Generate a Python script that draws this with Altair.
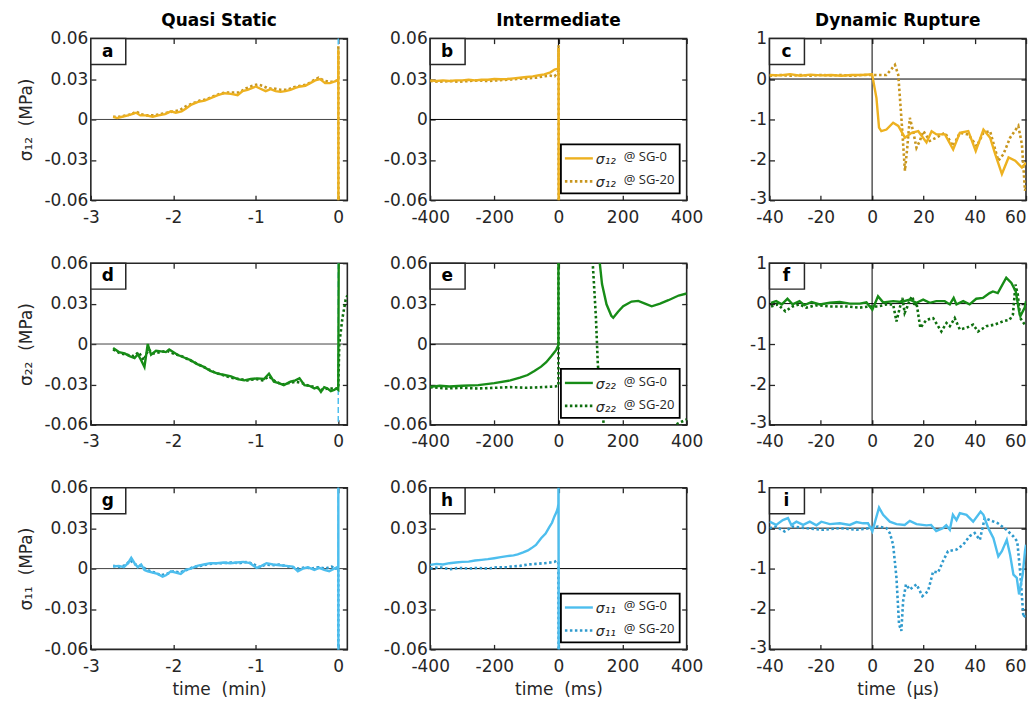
import altair as alt
import pandas as pd

FONT = "DejaVu Sans"
INK = "#262626"

COL_TITLES = ["Quasi Static", "Intermediate", "Dynamic Rupture"]
X_TITLES = ["time\u00a0\u00a0(min)", "time\u00a0\u00a0(ms)", "time\u00a0\u00a0(\u03bcs)"]
Y_TITLES = ["\u03c3\u2081\u2082\u00a0\u00a0(MPa)", "\u03c3\u2082\u2082\u00a0\u00a0(MPa)", "\u03c3\u2081\u2081\u00a0\u00a0(MPa)"]
LEG_SYM = ["\u03c3\u2081\u2082", "\u03c3\u2082\u2082", "\u03c3\u2081\u2081"]
LETTERS = [["a", "b", "c"], ["d", "e", "f"], ["g", "h", "i"]]
X_DOMAINS = [[-3, 0.11], [-400, 400], [-40, 60]]
X_TICKS = [[-3, -2, -1, 0], [-400, -200, 0, 200, 400], [-40, -20, 0, 20, 40, 60]]
Y_DOMAINS = [[-0.06, 0.06], [-0.06, 0.06], [-3, 1]]
Y_TICKS = [[-0.06, -0.03, 0, 0.03, 0.06], [-0.06, -0.03, 0, 0.03, 0.06], [-3, -2, -1, 0, 1]]
SOLID_COLORS = ["#EDB120", "#178C17", "#4DBEEE"]
DOT_COLORS = ["#C8961E", "#0E6E0E", "#2F9ACD"]

# ---------------- row 1 : sigma_12 ----------------
A_SG0 = [(-2.73, 0.002), (-2.68, 0.001), (-2.62, 0.002), (-2.55, 0.003), (-2.5, 0.004), (-2.45, 0.005),
         (-2.4, 0.003), (-2.33, 0.003), (-2.25, 0.002), (-2.18, 0.003), (-2.1, 0.004), (-2.03, 0.006),
         (-1.97, 0.005), (-1.9, 0.006), (-1.85, 0.008), (-1.78, 0.011), (-1.7, 0.013), (-1.62, 0.014),
         (-1.54, 0.016), (-1.46, 0.018), (-1.38, 0.0195), (-1.3, 0.019), (-1.22, 0.018), (-1.16, 0.021),
         (-1.1, 0.022), (-1.04, 0.0235), (-1.0, 0.0245), (-0.95, 0.023), (-0.88, 0.021), (-0.82, 0.0225),
         (-0.76, 0.021), (-0.7, 0.0205), (-0.64, 0.021), (-0.58, 0.022), (-0.52, 0.0235), (-0.46, 0.0245),
         (-0.4, 0.025), (-0.34, 0.027), (-0.28, 0.029), (-0.22, 0.030), (-0.16, 0.027), (-0.1, 0.027),
         (-0.05, 0.028), (-0.01, 0.029), (0.0, 0.029), (0.001, 0.052), (0.002, -0.08)]
A_SG20 = [(-2.73, 0.002), (-2.66, 0.002), (-2.58, 0.003), (-2.5, 0.004), (-2.45, 0.006), (-2.4, 0.004),
          (-2.32, 0.003), (-2.24, 0.003), (-2.16, 0.004), (-2.08, 0.005), (-2.0, 0.006), (-1.92, 0.007),
          (-1.84, 0.01), (-1.76, 0.012), (-1.68, 0.014), (-1.6, 0.015), (-1.52, 0.017), (-1.44, 0.019),
          (-1.36, 0.02), (-1.28, 0.02), (-1.2, 0.02), (-1.12, 0.023), (-1.04, 0.025), (-0.98, 0.026),
          (-0.92, 0.025), (-0.85, 0.023), (-0.78, 0.023), (-0.7, 0.022), (-0.62, 0.022), (-0.54, 0.024),
          (-0.46, 0.025), (-0.38, 0.026), (-0.3, 0.029), (-0.24, 0.031), (-0.18, 0.029), (-0.12, 0.028),
          (-0.06, 0.028), (-0.01, 0.029), (0.0, 0.029), (0.001, 0.055), (0.002, -0.08)]
B_SG0 = [(-400, 0.029), (-380, 0.0285), (-360, 0.029), (-340, 0.0285), (-320, 0.029), (-300, 0.029),
         (-280, 0.0295), (-260, 0.029), (-240, 0.0295), (-220, 0.0295), (-200, 0.030), (-180, 0.0298),
         (-160, 0.030), (-140, 0.0305), (-120, 0.031), (-100, 0.0315), (-80, 0.032), (-60, 0.0328),
         (-44, 0.0335), (-25, 0.035), (-12, 0.037), (-4, 0.0375), (0, 0.038), (0.5, 0.053), (1, -0.08)]
B_SG20 = [(-400, 0.0285), (-370, 0.028), (-340, 0.0285), (-310, 0.028), (-280, 0.0285), (-250, 0.029),
          (-220, 0.0285), (-190, 0.029), (-160, 0.0295), (-130, 0.030), (-100, 0.0305), (-70, 0.031),
          (-45, 0.032), (-25, 0.0325), (-12, 0.032), (-5, 0.034), (0, 0.036), (0.5, 0.055), (1, -0.08)]
C_SG0 = [(-40, 0.1), (-36, 0.09), (-32, 0.12), (-28, 0.08), (-24, 0.11), (-20, 0.09), (-16, 0.1),
         (-12, 0.08), (-8, 0.1), (-4, 0.1), (0, 0.12), (1.7, -0.47), (2.7, -1.2), (3.6, -1.29), (5.6, -1.25),
         (8.2, -1.08), (10.2, -1.16), (12.8, -1.45), (15.4, -1.33), (18.0, -1.29), (21.2, -1.57), (23.2, -1.29),
         (25.1, -1.37), (28.4, -1.37), (31.6, -1.74), (34.2, -1.33), (37.5, -1.29), (40.4, -1.78), (43.4, -1.25),
         (46.0, -1.45), (48.0, -1.86), (50.6, -2.35), (53.2, -1.94), (55.8, -2.02), (58.4, -2.19), (60.0, -2.07)]
C_SG20 = [(-40, 0.08), (-36, 0.1), (-32, 0.08), (-28, 0.1), (-24, 0.08), (-20, 0.1), (-16, 0.09), (-12, 0.1),
          (-8, 0.08), (-4, 0.1), (0, 0.1), (5.6, 0.1), (8.9, 0.35), (10.2, 0.1), (11.5, -1.04), (12.8, -2.27),
          (13.7, -1.7), (14.7, -0.96), (16.0, -1.29), (17.3, -1.7), (18.6, -1.53), (20.0, -1.29), (22.5, -1.53),
          (25.0, -1.45), (28.4, -1.33), (31.6, -1.66), (34.2, -1.33), (37.5, -1.37), (40.8, -1.66), (43.4, -1.33),
          (46.0, -1.29), (49.2, -2.02), (51.2, -1.86), (53.8, -1.45), (57.0, -1.16), (58.4, -1.61), (59.6, -2.76),
          (60.0, -2.68)]

# ---------------- row 2 : sigma_22 ----------------
D_SG0 = [(-2.73, -0.003), (-2.66, -0.006), (-2.59, -0.007), (-2.53, -0.009), (-2.47, -0.0105), (-2.43, -0.0075),
         (-2.39, -0.012), (-2.35, -0.017), (-2.31, 0.0), (-2.27, -0.008), (-2.21, -0.005), (-2.15, -0.0055),
         (-2.09, -0.006), (-2.05, -0.004), (-1.95, -0.008), (-1.87, -0.010), (-1.79, -0.012), (-1.71, -0.015),
         (-1.63, -0.017), (-1.55, -0.020), (-1.46, -0.022), (-1.38, -0.023), (-1.30, -0.024), (-1.22, -0.026),
         (-1.14, -0.027), (-1.06, -0.026), (-0.98, -0.0255), (-0.9, -0.026), (-0.84, -0.022), (-0.78, -0.028),
         (-0.72, -0.029), (-0.66, -0.0305), (-0.58, -0.028), (-0.52, -0.027), (-0.47, -0.0255), (-0.41, -0.0305),
         (-0.35, -0.031), (-0.29, -0.033), (-0.25, -0.032), (-0.21, -0.0355), (-0.17, -0.032), (-0.13, -0.033),
         (-0.09, -0.035), (-0.05, -0.034), (-0.02, -0.033), (0.0, -0.034), (0.006, 0.07)]
D_SG20 = [(-2.73, -0.004), (-2.64, -0.007), (-2.56, -0.008), (-2.48, -0.009), (-2.42, -0.006), (-2.36, -0.012),
          (-2.3, -0.004), (-2.24, -0.007), (-2.16, -0.006), (-2.08, -0.005), (-2.0, -0.007), (-1.9, -0.009),
          (-1.8, -0.012), (-1.7, -0.015), (-1.6, -0.018), (-1.5, -0.021), (-1.4, -0.023), (-1.3, -0.025),
          (-1.2, -0.026), (-1.1, -0.027), (-1.0, -0.026), (-0.92, -0.027), (-0.84, -0.024), (-0.76, -0.028),
          (-0.68, -0.03), (-0.6, -0.029), (-0.52, -0.028), (-0.44, -0.029), (-0.36, -0.031), (-0.28, -0.032),
          (-0.2, -0.034), (-0.12, -0.033), (-0.05, -0.033), (0.0, -0.033), (0.012, 0.0), (0.05, 0.019),
          (0.09, 0.033), (0.11, 0.036)]
E_SG0 = [(-400, -0.0318), (-370, -0.031), (-340, -0.0315), (-300, -0.031), (-250, -0.0305), (-200, -0.029),
         (-150, -0.027), (-120, -0.025), (-96, -0.023), (-75, -0.020), (-54, -0.0168), (-38, -0.0135),
         (-23, -0.0093), (-12, -0.006), (-7, -0.0043), (-2, -0.0018), (0, -0.001), (0.5, 0.3), (122, 0.09),
         (129, 0.06), (136, 0.0445), (150, 0.0295), (165, 0.021), (171, 0.0195), (186, 0.024), (202, 0.028),
         (228, 0.0315), (249, 0.032), (270, 0.030), (291, 0.028), (317, 0.030), (343, 0.0325), (375, 0.036),
         (400, 0.0375)]
E_SG20 = [(-400, -0.032), (-350, -0.033), (-300, -0.0325), (-250, -0.033), (-200, -0.0325), (-150, -0.032),
          (-100, -0.0325), (-50, -0.032), (-10, -0.0315), (0, -0.031), (0.5, 0.3), (100, 0.15), (107, 0.06),
          (112, 0.04), (117, 0.0195), (123, -0.0155), (130, -0.033), (141, -0.059), (146, -0.08), (250, -0.12),
          (355, -0.065), (372, -0.059), (400, -0.056)]
F_SG0 = [(-39.4, 0.02), (-37.4, 0.06), (-35.2, -0.02), (-33.0, 0.12), (-31.0, -0.02), (-28.3, 0.06),
         (-26.4, -0.04), (-23.6, 0.04), (-20.4, -0.02), (-16.5, 0.02), (-12.6, 0.04), (-8.7, 0.0), (-4.8, 0.0),
         (-2.2, 0.03), (0.1, -0.15), (2.3, 0.18), (4.3, 0.03), (8.2, 0.06), (11.4, 0.04), (14.7, 0.1),
         (17.3, 0.02), (19.9, 0.1), (22.5, 0.02), (25.0, 0.06), (28.3, 0.06), (30.3, -0.02), (31.8, 0.14),
         (32.9, -0.02), (35.5, 0.06), (38.0, -0.02), (40.6, 0.12), (43.2, 0.14), (45.8, 0.26), (47.1, 0.3),
         (49.0, 0.26), (52.3, 0.64), (54.3, 0.51), (56.0, 0.3), (57.3, -0.19), (57.8, -0.31), (59.5, -0.1),
         (60.0, 0.06)]
F_SG20 = [(-39.4, -0.07), (-36.8, -0.02), (-33.8, -0.19), (-31.0, -0.07), (-28.3, -0.02), (-25.7, -0.1),
          (-21.8, -0.04), (-16.5, -0.07), (-10.0, -0.07), (-4.8, -0.1), (-0.9, -0.07), (2.3, -0.07),
          (5.6, -0.02), (8.2, -0.02), (9.5, -0.44), (10.8, -0.1), (11.8, 0.14), (12.7, -0.23), (13.6, -0.1),
          (14.7, 0.1), (15.7, 0.18), (16.6, -0.07), (17.3, 0.02), (18.8, -0.6), (21.2, -0.4), (23.8, -0.36),
          (27.0, -0.69), (29.0, -0.48), (30.3, -0.56), (32.2, -0.36), (34.2, -0.64), (36.8, -0.6), (39.4, -0.52),
          (41.3, -0.69), (44.5, -0.56), (47.8, -0.52), (51.0, -0.44), (53.6, -0.4), (54.9, -0.27), (55.9, 0.47),
          (56.8, 0.22), (57.8, -0.36), (59.5, -0.52)]

# ---------------- row 3 : sigma_11 ----------------
G_SG0 = [(-2.73, 0.0015), (-2.66, 0.002), (-2.6, 0.001), (-2.55, 0.004), (-2.51, 0.008), (-2.47, 0.004),
         (-2.43, 0.001), (-2.39, 0.003), (-2.35, -0.001), (-2.31, -0.002), (-2.25, -0.003), (-2.19, -0.004),
         (-2.13, -0.006), (-2.09, -0.005), (-2.03, -0.002), (-1.97, -0.003), (-1.91, -0.004), (-1.85, -0.001),
         (-1.79, 0.0), (-1.71, 0.002), (-1.63, 0.003), (-1.55, 0.004), (-1.47, 0.004), (-1.39, 0.0045),
         (-1.31, 0.004), (-1.23, 0.0045), (-1.15, 0.005), (-1.07, 0.004), (-0.99, 0.0005), (-0.93, 0.002),
         (-0.87, 0.004), (-0.79, 0.003), (-0.71, 0.0025), (-0.63, 0.002), (-0.55, 0.0015), (-0.49, -0.002),
         (-0.43, 0.0), (-0.37, 0.001), (-0.29, -0.001), (-0.23, 0.0005), (-0.17, -0.001), (-0.11, -0.002),
         (-0.05, 0.0), (-0.01, 0.001), (0.0, 0.001), (0.001, 0.07), (0.002, -0.08)]
G_SG20 = [(-2.73, 0.002), (-2.64, 0.001), (-2.57, 0.003), (-2.52, 0.006), (-2.46, 0.003), (-2.4, 0.002),
          (-2.34, 0.0), (-2.28, -0.002), (-2.22, -0.003), (-2.15, -0.005), (-2.08, -0.004), (-2.0, -0.002),
          (-1.92, -0.003), (-1.84, -0.001), (-1.76, 0.001), (-1.68, 0.002), (-1.6, 0.003), (-1.5, 0.004),
          (-1.4, 0.004), (-1.3, 0.0045), (-1.2, 0.004), (-1.1, 0.005), (-1.02, 0.003), (-0.96, 0.001),
          (-0.88, 0.003), (-0.8, 0.0025), (-0.72, 0.003), (-0.64, 0.002), (-0.56, 0.001), (-0.48, 0.0),
          (-0.4, 0.001), (-0.32, 0.0), (-0.24, 0.001), (-0.16, 0.0), (-0.08, 0.0015), (-0.03, 0.0),
          (0.0, 0.001), (0.001, -0.08)]
H_SG0 = [(-400, 0.0027), (-380, 0.0035), (-360, 0.003), (-340, 0.004), (-320, 0.0045), (-300, 0.005),
         (-280, 0.0052), (-260, 0.006), (-240, 0.0065), (-220, 0.007), (-200, 0.0077), (-180, 0.0085),
         (-160, 0.0092), (-140, 0.0098), (-127, 0.0105), (-110, 0.012), (-95, 0.0135), (-85, 0.015),
         (-70, 0.0175), (-54, 0.0225), (-40, 0.026), (-28, 0.031), (-20, 0.034), (-12.5, 0.0387), (-6, 0.042),
         (-2, 0.045), (0, 0.048), (0.5, 0.07), (1, -0.08)]
H_SG20 = [(-400, 0.0), (-370, 0.001), (-340, -0.0005), (-310, 0.0005), (-280, 0.0), (-250, 0.0005), (-220, 0.0),
          (-190, 0.001), (-160, 0.001), (-148, 0.0015), (-120, 0.002), (-96, 0.003), (-70, 0.0035), (-44, 0.004),
          (-25, 0.0045), (-12, 0.005), (-5, 0.006), (0, 0.0045), (1, -0.08)]
I_SG0 = [(-40, 0.16), (-37.4, 0.08), (-34.8, 0.2), (-32.8, 0.25), (-31.5, 0.08), (-29.5, 0.16), (-26.9, 0.08),
         (-24.3, 0.16), (-21.7, 0.07), (-19.8, 0.16), (-16.5, 0.1), (-12.6, 0.12), (-8.7, 0.08), (-6.1, 0.15),
         (-3.5, 0.12), (-1.6, 0.12), (0.1, -0.08), (2.7, 0.51), (4.3, 0.33), (6.9, 0.16), (9.5, 0.1), (12.7, 0.08),
         (14.7, 0.18), (17.3, 0.1), (21.2, 0.07), (23.0, 0.08), (25.0, -0.07), (27.6, 0.0), (28.9, 0.07),
         (30.3, -0.04), (31.5, 0.33), (32.9, 0.2), (34.2, 0.37), (36.8, 0.33), (39.4, 0.16), (42.3, 0.41),
         (43.4, 0.33), (45.3, 0.0), (47.3, -0.25), (49.2, -0.7), (50.6, -0.57), (52.5, -0.29), (53.8, -0.66),
         (55.1, -1.15), (56.4, -1.23), (57.3, -1.64), (58.7, -1.15), (59.6, -0.57), (60.0, -0.41)]
I_SG20 = [(-40, 0.0), (-37.4, 0.04), (-34.1, -0.08), (-30.9, 0.04), (-25.7, 0.0), (-19.1, -0.04), (-12.6, 0.0),
          (-6.1, -0.04), (-0.9, 0.0), (2.3, 0.04), (5.6, 0.0), (6.9, -0.12), (8.2, -0.41), (9.5, -1.23),
          (10.5, -2.38), (11.4, -2.54), (12.1, -1.8), (13.2, -1.39), (14.7, -1.52), (17.3, -1.39), (19.6, -1.68),
          (21.8, -1.56), (23.8, -1.07), (25.7, -1.1), (27.6, -0.82), (29.6, -0.57), (32.9, -0.53), (35.5, -0.41),
          (38.0, -0.2), (40.0, -0.12), (42.0, -0.29), (43.9, 0.25), (45.8, 0.2), (49.1, 0.12), (52.4, -0.04),
          (55.0, -0.2), (56.6, -0.33), (57.7, -1.07), (59.0, -2.21), (60.0, -2.13)]

SERIES = [[(A_SG0, A_SG20), (B_SG0, B_SG20), (C_SG0, C_SG20)],
          [(D_SG0, D_SG20), (E_SG0, E_SG20), (F_SG0, F_SG20)],
          [(G_SG0, G_SG20), (H_SG0, H_SG20), (I_SG0, I_SG20)]]

W, H = 257, 162
ONE = pd.DataFrame({"z": [0]})
LABEL_EXPR = "'' + datum.value"


def frame(pairs):
    return pd.DataFrame({"t": [p[0] for p in pairs], "v": [p[1] for p in pairs],
                         "i": list(range(len(pairs)))})


def panel(r, c):
    sg0, sg20 = SERIES[r][c]
    xs = alt.Scale(domain=X_DOMAINS[c], nice=False, zero=False)
    ys = alt.Scale(domain=Y_DOMAINS[c], nice=False, zero=False)
    x_kw = dict(orient="bottom", values=X_TICKS[c], labelExpr=LABEL_EXPR, tickSize=5, offset=-5,
                domain=False, grid=False, labelPadding=9, titlePadding=7, labelFlush=False,
                labelOverlap=False)
    if c == 2:
        x_kw["labelAlign"] = {"expr": "datum.value == 60 ? 'right' : 'center'"}
    if r == 2:
        x_kw["title"] = X_TITLES[c]
    else:
        x_kw["title"] = None
    y_kw = dict(orient="left", values=Y_TICKS[c], labelExpr=LABEL_EXPR, tickSize=5, offset=-5,
                domain=False, grid=False, labelPadding=3, titlePadding=8, labelFlush=False,
                labelOverlap=False)
    if c == 2:
        y_kw["labelOffset"] = {"expr": "datum.value == -3 ? -2 : 0"}
    if c == 0:
        y_kw["title"] = Y_TITLES[r]
    else:
        y_kw["title"] = None
    x_axis = alt.Axis(**x_kw)
    y_axis = alt.Axis(**y_kw)
    top_axis = alt.Axis(orient="top", values=X_TICKS[c], labels=False, tickSize=5, offset=-5,
                        domain=False, grid=False, title=None)
    right_axis = alt.Axis(orient="right", values=Y_TICKS[c], labels=False, tickSize=5, offset=-5,
                          domain=False, grid=False, title=None)

    zero_color = "#444444" if c == 0 else "black"
    hzero = alt.Chart(ONE).mark_rule(color=zero_color, strokeWidth=1).encode(
        y=alt.YDatum(0, type="quantitative", scale=ys, axis=right_axis))
    if c == 0:
        vzero = alt.Chart(ONE).mark_rule(color="#4DBEEE", strokeWidth=1.5, strokeDash=[6, 3]).encode(
            x=alt.XDatum(0, type="quantitative", scale=xs, axis=top_axis))
    else:
        vzero = alt.Chart(ONE).mark_rule(color="black", strokeWidth=1).encode(
            x=alt.XDatum(0, type="quantitative", scale=xs, axis=top_axis))

    dotted = alt.Chart(frame(sg20)).mark_line(
        color=DOT_COLORS[r], strokeWidth=2.6, strokeDash=[2.5, 2.5], clip=True).encode(
        x=alt.X("t:Q", scale=xs, axis=None),
        y=alt.Y("v:Q", scale=ys, axis=None),
        order="i:Q")
    solid = alt.Chart(frame(sg0)).mark_line(
        color=SOLID_COLORS[r], strokeWidth=2.4, clip=True).encode(
        x=alt.X("t:Q", scale=xs, axis=x_axis),
        y=alt.Y("v:Q", scale=ys, axis=y_axis),
        order="i:Q")

    box = alt.Chart(ONE).mark_rect(fill="white", stroke=INK, strokeWidth=1.5).encode(
        x=alt.value(0), x2=alt.value(35), y=alt.value(0), y2=alt.value(26))
    letter = alt.Chart(ONE).mark_text(font=FONT, fontSize=17, fontWeight="bold", color="black").encode(
        x=alt.value(17), y=alt.value(13), text=alt.value(LETTERS[r][c]))

    layers = [hzero, vzero, dotted, solid, box, letter]

    if c == 1:
        lbox = alt.Chart(ONE).mark_rect(fill="white", stroke="black", strokeWidth=1.8).encode(
            x=alt.value(131), x2=alt.value(250), y=alt.value(106), y2=alt.value(155))
        l1 = alt.Chart(ONE).mark_rule(color=SOLID_COLORS[r], strokeWidth=2.4).encode(
            x=alt.value(135), x2=alt.value(163), y=alt.value(120))
        l2 = alt.Chart(ONE).mark_rule(color=DOT_COLORS[r], strokeWidth=2.6, strokeDash=[2.5, 2.5]).encode(
            x=alt.value(135), x2=alt.value(163), y=alt.value(143))
        s1 = alt.Chart(ONE).mark_text(align="left", font=FONT, fontSize=14, fontStyle="italic",
                                      color=INK).encode(
            x=alt.value(166), y=alt.value(122), text=alt.value(LEG_SYM[r]))
        s2 = alt.Chart(ONE).mark_text(align="left", font=FONT, fontSize=14, fontStyle="italic",
                                      color=INK).encode(
            x=alt.value(166), y=alt.value(145), text=alt.value(LEG_SYM[r]))
        n1 = alt.Chart(ONE).mark_text(align="left", font="Open Sans", fontSize=13, color=INK).encode(
            x=alt.value(194), y=alt.value(119), text=alt.value("@ SG-0"))
        n2 = alt.Chart(ONE).mark_text(align="left", font="Open Sans", fontSize=13, color=INK).encode(
            x=alt.value(194), y=alt.value(142), text=alt.value("@ SG-20"))
        layers += [lbox, l1, l2, s1, s2, n1, n2]

    props = dict(width=W, height=H)
    if r == 0:
        props["title"] = alt.TitleParams(COL_TITLES[c], font=FONT, fontSize=17, fontWeight="bold",
                                         color="black", offset=0)
    return alt.layer(*layers).resolve_axis(x="independent", y="independent").properties(**props)


panels = [panel(r, c) for r in range(3) for c in range(3)]

chart = alt.concat(
    *panels, columns=3, spacing={"row": 63, "column": 83}, bounds="flush",
    padding={"left": 9, "top": 2, "right": 0, "bottom": 0}
).configure_view(
    stroke=INK, strokeWidth=1.6
).configure_axis(
    labelFont=FONT, labelFontSize=17, labelColor=INK, titleFont=FONT, titleFontSize=17,
    titleColor=INK, titleFontWeight="normal", tickColor=INK, tickWidth=1.3
).configure_text(font=FONT)

chart.save("out.html", embed_options={"renderer": "svg", "actions": False})
